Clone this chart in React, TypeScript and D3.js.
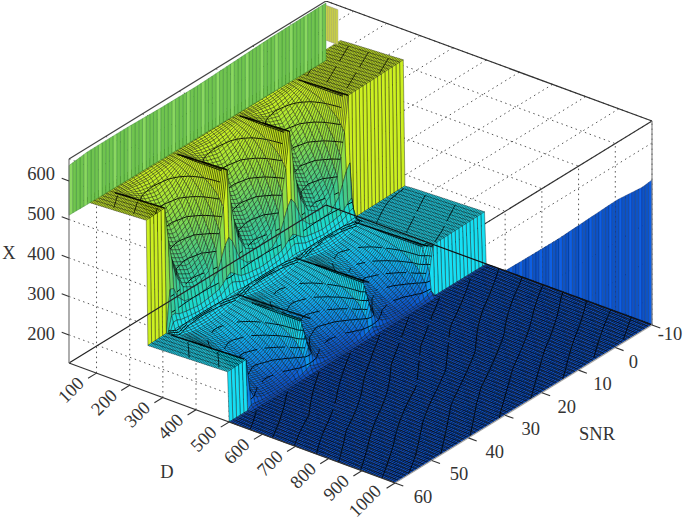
import React, { useMemo } from 'react';
import * as d3 from 'd3';

// Tick values
const dTicks = [100, 200, 300, 400, 500, 600, 700, 800, 900, 1000];
const snrTicks = [-10, 0, 10, 20, 30, 40, 50, 60];
const xTicks = [200, 300, 400, 500, 600];

// Axis limits
const D_MIN = 17;
const D_MAX = 1000;
const X_MIN = 127;
const X_MAX = 657;

// Surface profiles X(D), one value per bandD column
const bandD = [60, 90, 110, 130, 150, 170, 190, 210, 230, 250, 255, 260, 270, 290, 320, 350, 380, 410, 440, 470, 495, 500, 510];
const frontRow = [563, 564, 565, 566, 567, 568, 569, 570, 571, 572, 248, 248, 248.5, 249, 250, 251, 252, 253, 254, 255, 256, 127, 127];
const sharpRow = [565, 566, 567, 568, 569, 570, 571, 572, 573, 574, 250, 250, 250.5, 251, 252, 253, 254, 255, 256, 257, 258, 127, 127];
const backRow = [568, 570, 571, 572, 573, 574, 575, 576, 577, 578, 252, 252, 253, 254, 255, 256, 257, 258, 259, 260, 261, 127, 127];
const crestRow = [565, 566, 567, 568, 569, 570, 571, 572, 573, 574, 400, 310, 262, 252, 252, 253, 254, 255, 256, 257, 190, 145, 127];
const edgeRow1 = [565, 566, 564, 560, 555, 547, 535, 520, 500, 465, 380, 300, 262, 250, 248, 244, 238, 228, 212, 190, 160, 138, 127];
const edgeRow2 = [565, 566, 562, 552, 538, 518, 493, 463, 428, 385, 330, 285, 258, 245, 240, 232, 222, 208, 190, 168, 145, 133, 127];
const edgeRow3 = [565, 566, 558, 538, 513, 483, 448, 413, 378, 340, 305, 280, 255, 240, 232, 220, 205, 190, 172, 152, 136, 131, 127];
const midRow = [565, 566, 553, 528, 498, 463, 428, 393, 358, 320, 297, 275, 252, 238, 225, 210, 194, 178, 160, 145, 133, 130, 127];

// SNR stations and the profile seen at each of them
const snrStations = [60, 55, 53.8, 52.2, 50, 46.5, 43, 40.8, 39.2, 38, 36.8, 35.2, 33, 29.5, 26, 23.8, 22.2, 21, 19.8, 18.2, 16, 13, 10, 7.8, 6.2, 5, 4, -10];
const stationRows = [
  frontRow, sharpRow, edgeRow1, edgeRow2, edgeRow3, midRow, edgeRow3, edgeRow2, edgeRow1,
  crestRow, edgeRow1, edgeRow2, edgeRow3, midRow, edgeRow3, edgeRow2, edgeRow1,
  crestRow, edgeRow1, edgeRow2, edgeRow3, midRow, edgeRow3, edgeRow2, edgeRow1,
  crestRow, sharpRow, backRow,
];

// Nearly flat floor beyond D = 510
const floorD = [510, 630, 750, 870, 1000];
const floorSnr = [-10, 10, 30, 50, 60];
const floorRows = [
  [127.86, 128.03, 128.23, 128.39, 128.6],
  [127.62, 127.82, 127.97, 128.17, 128.35],
  [127.37, 127.57, 127.72, 127.94, 128.12],
  [127.14, 127.3, 127.51, 127.68, 127.87],
  [127.02, 127.2, 127.38, 127.56, 127.76],
];

// Contour levels
const surfaceLevels = [150, 170, 190, 210, 230, 252, 255, 258, 300, 340, 380, 420, 460, 500, 540, 567, 570, 573, 576];
const floorLevels = [127.1, 127.2, 127.3, 127.4, 127.5, 127.6, 127.7, 127.8, 127.9, 128, 128.1, 128.2, 128.3, 128.4, 128.5];

// Ridge lines along D
const upperCrests = [55, 38, 21, 5];
const lowerCrests = [55, 37, 21, 5];

// Tall strip along the low D edge
const wallSnr = [60, 55, 45, 35, 25, 15, 5, -10];
const wallTop = [640, 646, 646, 643, 642, 646, 650, 652];
const wallBottom = [511, 510, 509, 508, 507, 506, 505, 503];

// Rising strip along SNR = -10
const rampD = [557, 611, 713, 804, 894, 970, 1000];
const rampX = [127, 172, 257, 338, 418, 475, 504];

const colorDomain = [127, 150, 190, 225, 260, 310, 370, 430, 490, 570];
const colorRange = ['#0a48b8', '#0a62d8', '#0a94ec', '#10c4f8', '#18e0f4', '#20d8c0', '#3cc890', '#64d068', '#94e040', '#ccf020'];

const SERIF = '"Liberation Serif", serif';

const px = d3.scaleLinear().domain([D_MIN, D_MAX]).range([0, 326]);
const py = d3.scaleLinear().domain([D_MIN, D_MAX]).range([0, 120]);
const qx = d3.scaleLinear().domain([60, -10]).range([0, 257]);
const qy = d3.scaleLinear().domain([60, -10]).range([0, -158]);
const hy = d3.scaleLinear().domain([X_MIN, X_MAX]).range([0, 204]);
const color = d3.scaleLinear<string>().domain(colorDomain).range(colorRange).clamp(true);
const xLabelY = d3.scaleLinear().domain([200, 600]).range([334, 174]);

type P = [number, number];
const project = (d: number, s: number, x: number): P => [69 + px(d) + qx(s), 363 + py(d) + qy(s) - hy(x)];
const poly = (pts: P[]) => 'M' + pts.map((p) => `${p[0].toFixed(2)},${p[1].toFixed(2)}`).join('L') + 'Z';
const seg = (a: P, b: P) => `M${a[0].toFixed(2)},${a[1].toFixed(2)}L${b[0].toFixed(2)},${b[1].toFixed(2)}`;

// The mesh is drawn finer than the tables: vertices are placed between table values only for drawing
const meshD = [...d3.range(60, 510, 5), ...d3.range(510, 1001, 7)];
const meshS = d3.range(-10, 61);

function buildHeights(): number[][] {
  const bandCols = meshD.map((d) => stationRows.map((row) => d3.scaleLinear().domain(bandD).range(row)(Math.min(d, 510))));
  const floorCols = meshD.map((d) => floorRows.map((row) => d3.scaleLinear().domain(floorD).range(row)(Math.max(d, 510))));
  return meshS.map((s) =>
    meshD.map((d, i) =>
      d <= 510
        ? d3.scaleLinear().domain(snrStations).range(bandCols[i])(s)
        : d3.scaleLinear().domain(floorSnr).range(floorCols[i])(s),
    ),
  );
}

function contourPaths(c: [number, number, number][], levels: number[]): string {
  const v = c.map((k) => k[2]);
  const lo = d3.min(v) as number;
  const hi = d3.max(v) as number;
  if (hi - lo > 70) return '';
  let out = '';
  levels.forEach((l) => {
    if (l < lo || l > hi) return;
    const hits: P[] = [];
    c.forEach((a, i) => {
      const b = c[(i + 1) % 4];
      if ((a[2] - l) * (b[2] - l) < 0) {
        const t = (l - a[2]) / (b[2] - a[2]);
        hits.push(project(a[0] + (b[0] - a[0]) * t, a[1] + (b[1] - a[1]) * t, l));
      }
    });
    if (hits.length >= 2) out += seg(hits[0], hits[1]);
  });
  return out;
}

function Surface() {
  const marks = useMemo(() => {
    const H = buildHeights();
    const out: React.ReactNode[] = [];
    for (let j = 0; j < meshS.length - 1; j++) {
      for (let i = 0; i < meshD.length - 1; i++) {
        const c: [number, number, number][] = [
          [meshD[i], meshS[j], H[j][i]],
          [meshD[i + 1], meshS[j], H[j][i + 1]],
          [meshD[i + 1], meshS[j + 1], H[j + 1][i + 1]],
          [meshD[i], meshS[j + 1], H[j + 1][i]],
        ];
        const isFloor = meshD[i] >= 510;
        out.push(
          <path
            key={`q${j}-${i}`}
            d={poly(c.map((k) => project(k[0], k[1], k[2])))}
            fill={color(H[j][i])}
            stroke='#000'
            strokeWidth={isFloor ? 0.62 : 0.44}
            strokeOpacity={0.85}
          />,
        );
        const lines = contourPaths(c, isFloor ? (meshD[i] > 510 ? floorLevels : []) : surfaceLevels);
        if (lines) out.push(<path key={`c${j}-${i}`} d={lines} fill='none' stroke='#000' strokeWidth={0.9} />);
      }
    }
    return out;
  }, []);
  return <g>{marks}</g>;
}

function Ramp() {
  const top = d3.scaleLinear().domain(rampD).range(rampX);
  const ds = d3.range(560, 1000, 10);
  return (
    <g>
      {ds.map((d, i) => (
        <path
          key={d}
          d={poly([project(d, -10, X_MIN), project(d, -10, top(d)), project(d + 10, -10, top(d + 10)), project(d + 10, -10, X_MIN)])}
          fill={i % 3 === 1 ? '#0c5ee4' : '#0a52c6'}
          stroke='#03205e'
          strokeWidth={0.35}
        />
      ))}
    </g>
  );
}

function EdgeStrips() {
  const top = d3.scaleLinear().domain(wallSnr).range(wallTop);
  const bottom = d3.scaleLinear().domain(wallSnr).range(wallBottom);
  const ss = d3.range(-10, 60);
  return (
    <g>
      {ss.map((s, i) => (
        <path
          key={s}
          d={poly([
            project(D_MIN, s, bottom(s)),
            project(D_MIN, s, top(s)),
            project(D_MIN, s + 1, top(s + 1)),
            project(D_MIN, s + 1, bottom(s + 1)),
          ])}
          fill={i % 4 === 1 ? '#8ad860' : '#70c450'}
          stroke='#2f7d2a'
          strokeWidth={0.4}
        />
      ))}
      {d3.range(D_MIN, 50, 6).map((d) => (
        <path
          key={d}
          d={poly([project(d, -10, 555), project(d, -10, 646), project(d + 6, -10, 646), project(d + 6, -10, 555)])}
          fill='#d4dc3c'
          stroke='#888'
          strokeWidth={0.4}
        />
      ))}
    </g>
  );
}

function Grid() {
  const lines: string[] = [];
  dTicks.forEach((d) => {
    lines.push(seg(project(d, 60, X_MAX), project(d, -10, X_MAX)));
    lines.push(seg(project(d, 60, X_MIN), project(d, 60, X_MAX)));
  });
  snrTicks.forEach((s) => {
    lines.push(seg(project(D_MIN, s, X_MAX), project(D_MAX, s, X_MAX)));
    lines.push(seg(project(D_MAX, s, X_MIN), project(D_MAX, s, X_MAX)));
  });
  xTicks.forEach((x) => {
    lines.push(seg(project(D_MIN, 60, x), project(D_MAX, 60, x)));
    lines.push(seg(project(D_MAX, 60, x), project(D_MAX, -10, x)));
  });
  return <path d={lines.join('')} fill='none' stroke='#555' strokeWidth={1} strokeDasharray='1.5 3.5' />;
}

export default function App() {
  const upper = d3.scaleLinear().domain(bandD).range(sharpRow);
  const ridgeDs = d3.range(100, 251, 10);
  const lowerDs = d3.range(270, 491, 10);
  const ridge = (ds: number[], s: number) =>
    ds.slice(1).map((d, i) => seg(project(ds[i], s, upper(ds[i])), project(d, s, upper(d)))).join('');

  return (
    <svg width={685} height={522} style={{ position: 'absolute', left: 0, top: 0, background: '#fff' }}>
      <defs>
        <filter id='soft' x='0' y='0' width='100%' height='100%'>
          <feGaussianBlur stdDeviation='0.45' />
        </filter>
      </defs>
      <g filter='url(#soft)'>
        <Grid />
        <path
          d={seg(project(D_MAX, -10, X_MAX), project(D_MAX, 60, X_MAX))}
          stroke='#333'
          strokeWidth={1.1}
        />
        <Ramp />
        <Surface />
        <EdgeStrips />
        {upperCrests.map((s) => (
          <path key={s} d={ridge(ridgeDs, s)} stroke='#000' strokeWidth={1.5} strokeOpacity={0.85} fill='none' />
        ))}
        {lowerCrests.map((s) => (
          <path key={s} d={ridge(lowerDs, s)} stroke='#000' strokeWidth={1.4} strokeOpacity={0.85} fill='none' />
        ))}
        <g fill='none' strokeWidth={1.2}>
          <path d={seg(project(D_MIN, -10, X_MIN), project(D_MIN, 60, X_MIN))} stroke='#222' />
          <path d={seg(project(D_MIN, -10, X_MIN), project(D_MAX, -10, X_MIN))} stroke='#111' />
          <path d={seg(project(D_MIN, 60, X_MIN), project(D_MAX, 60, X_MIN))} stroke='#333' />
          <path d={seg(project(D_MAX, 60, X_MIN), project(D_MAX, -10, X_MIN))} stroke='#aaa' />
          <path d={seg(project(D_MIN, 60, X_MAX), project(D_MIN, -10, X_MAX))} stroke='#444' />
          <path d={seg(project(D_MIN, -10, X_MAX), project(D_MAX, -10, X_MAX))} stroke='#333' />
          <path d={seg(project(D_MIN, 60, X_MIN), project(D_MIN, 60, X_MAX))} stroke='#777' />
          <path d={seg(project(D_MAX, -10, X_MIN), project(D_MAX, -10, X_MAX))} stroke='#888' />
        </g>
        <g fill='none' stroke='#333' strokeWidth={1.1}>
          {dTicks.map((d) => (
            <path key={d} d={seg(project(d, 60, X_MIN), project(d, 62.3, X_MIN))} />
          ))}
          {snrTicks.map((s) => (
            <path key={s} d={seg(project(D_MAX, s, X_MIN), project(D_MAX + 25, s, X_MIN))} />
          ))}
          {xTicks.map((x) => (
            <path key={x} d={seg(project(D_MIN, 60, x), project(D_MIN - 22, 60, x))} />
          ))}
        </g>
      </g>
      <g fontFamily={SERIF} fontSize={18.5} fill='#333'>
        {xTicks.map((x) => (
          <text key={x} x={55} y={xLabelY(x)} textAnchor='end' dominantBaseline='central'>
            {x}
          </text>
        ))}
        {dTicks.map((d) => {
          const [ax, ay] = project(d, 60, X_MIN);
          const lx = ax - (d === 1000 ? 30 : 25.5);
          const ly = ay + (d === 1000 ? 18 : 17);
          return (
            <text key={d} x={lx} y={ly} textAnchor='middle' dominantBaseline='central' transform={`rotate(-45 ${lx} ${ly})`}>
              {d}
            </text>
          );
        })}
        {snrTicks.map((s) => {
          const [ax, ay] = project(D_MAX, s, X_MIN);
          const off = s === 0 || s === -10 ? 18 : 24 + (s - 10) * 0.08;
          return (
            <text key={s} x={ax + off} y={ay + (s === -10 ? 9 : 14)} textAnchor='middle' dominantBaseline='central'>
              {s}
            </text>
          );
        })}
        <text x={9} y={253} textAnchor='middle' dominantBaseline='central'>X</text>
        <text x={167} y={472} textAnchor='middle' dominantBaseline='central'>D</text>
        <text x={597} y={434} textAnchor='middle' dominantBaseline='central'>SNR</text>
      </g>
    </svg>
  );
}
